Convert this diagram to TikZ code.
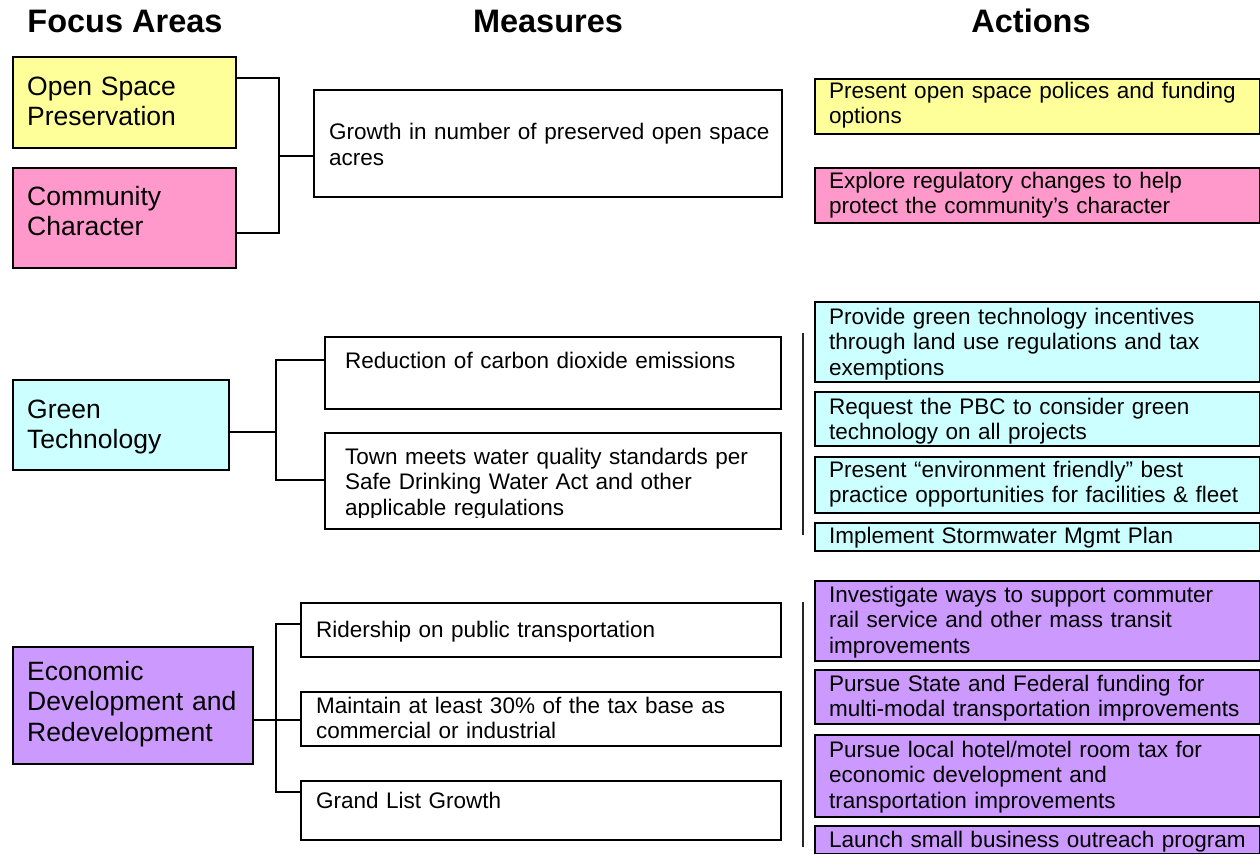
\documentclass[tikz,border=0pt]{standalone}
\usepackage{fontspec}
\setmainfont{Liberation Sans}
\setlength\parindent{0pt}
\definecolor{cyel}{HTML}{FFFF99}
\definecolor{cpink}{HTML}{FF99CC}
\definecolor{ccyan}{HTML}{CCFFFF}
\definecolor{cpurp}{HTML}{CC99FF}
\begin{document}
\begin{tikzpicture}[x=1pt,y=-1pt,
  box/.style={rectangle,draw=black,line width=1.8pt,inner sep=0pt,anchor=north west},
  conn/.style={draw=black,line width=1.8pt},
  brk/.style={draw=black!85,line width=1.3pt},
  ttl/.style={anchor=base,inner sep=0pt,font=\fontsize{32.5pt}{38pt}\selectfont\bfseries},
  ftxt/.style={anchor=base west,inner sep=0pt,text width=230pt,align=left,font=\fontsize{26.5pt}{30.5pt}\selectfont},
  mtxt/.style={anchor=base west,inner sep=0pt,text width=500pt,align=left,font=\fontsize{22.5pt}{25.5pt}\selectfont}]
\useasboundingbox (0,0) rectangle (1260,854);

% titles
\node[ttl] (h1) at (125,32) {Focus Areas};
\node[ttl] (h2) at (548,32) {Measures};
\node[ttl] (h3) at (1031,32) {Actions};

% focus areas
\node[box,fill=cyel,minimum width=223pt,minimum height=91pt] (osp) at (12,56) {};
\node[box,fill=cpink,minimum width=223pt,minimum height=100pt] (cc) at (12,167) {};
\node[box,fill=ccyan,minimum width=216pt,minimum height=90pt] (gt) at (12,379) {};
\node[box,fill=cpurp,minimum width=240pt,minimum height=117pt] (ed) at (12,646) {};
\node[ftxt] (ospt) at (27,95) {Open Space\\Preservation};
\node[ftxt] (cct) at (27,205) {Community\\Character};
\node[ftxt] (gtt) at (27,418) {Green\\Technology};
\node[ftxt] (edt) at (27,680) {Economic\\Development and\\Redevelopment};

% measures
\node[box,fill=white,minimum width=468pt,minimum height=107pt] (m1) at (313,89) {};
\node[box,fill=white,minimum width=456pt,minimum height=72pt] (m2) at (324,336) {};
\node[box,fill=white,minimum width=456pt,minimum height=96pt] (m3) at (324,432) {};
\node[box,fill=white,minimum width=480pt,minimum height=54pt] (m4) at (300,602) {};
\node[box,fill=white,minimum width=480pt,minimum height=54pt] (m5) at (300,691) {};
\node[box,fill=white,minimum width=480pt,minimum height=59pt] (m6) at (300,780) {};
\node[mtxt] (m1t) at (329,139.5) {Growth in number of preserved open space\\acres};
\node[mtxt] (m2t) at (345,368) {Reduction of carbon dioxide emissions};
\begin{scope}
  \clip (326,434) rectangle (778,517.5);
  \node[mtxt] (m3t) at (345,464) {Town meets water quality standards per\\Safe Drinking Water Act and other\\applicable regulations};
\end{scope}
\node[mtxt] (m4t) at (316,637) {Ridership on public transportation};
\node[mtxt] (m5t) at (316,713) {Maintain at least 30\% of the tax base as\\commercial or industrial};
\node[mtxt] (m6t) at (316,808) {Grand List Growth};

% actions
\node[box,fill=cyel,minimum width=444.5pt,minimum height=55pt] (a1) at (814,78) {};
\node[box,fill=cpink,minimum width=444.5pt,minimum height=55pt] (a2) at (814,167) {};
\node[box,fill=ccyan,minimum width=444.5pt,minimum height=80pt] (c1) at (814,301) {};
\node[box,fill=ccyan,minimum width=444.5pt,minimum height=54pt] (c2) at (814,391) {};
\node[box,fill=ccyan,minimum width=444.5pt,minimum height=56pt] (c3) at (814,456) {};
\node[box,fill=ccyan,minimum width=444.5pt,minimum height=28pt] (c4) at (814,522) {};
\node[box,fill=cpurp,minimum width=444.5pt,minimum height=80pt] (p1) at (814,580) {};
\node[box,fill=cpurp,minimum width=444.5pt,minimum height=54pt] (p2) at (814,669) {};
\node[box,fill=cpurp,minimum width=444.5pt,minimum height=82pt] (p3) at (814,734) {};
\node[box,fill=cpurp,minimum width=444.5pt,minimum height=27.5pt] (p4) at (814,825) {};
\node[mtxt] (a1t) at (829,98) {Present open space polices and funding\\options};
\node[mtxt] (a2t) at (829,188) {Explore regulatory changes to help\\protect the community’s character};
\node[mtxt] (c1t) at (829,324) {Provide green technology incentives\\through land use regulations and tax\\exemptions};
\node[mtxt] (c2t) at (829,414) {Request the PBC to consider green\\technology on all projects};
\node[mtxt] (c3t) at (829,477) {Present “environment friendly” best\\practice opportunities for facilities \& fleet};
\node[mtxt] (c4t) at (829,543) {Implement Stormwater Mgmt Plan};
\node[mtxt] (p1t) at (829,602) {Investigate ways to support commuter\\rail service and other mass transit\\improvements};
\node[mtxt] (p2t) at (829,691) {Pursue State and Federal funding for\\multi-modal transportation improvements};
\node[mtxt] (p3t) at (829,757) {Pursue local hotel/motel room tax for\\economic development and\\transportation improvements};
\node[mtxt] (p4t) at (829,847) {Launch small business outreach program};

% connectors: top group
\coordinate (t1) at (279,78);
\coordinate (t2) at (279,233);
\coordinate (tm) at (279,156);
\draw[conn] (osp.east |- t1) -- (t1) -- (t2) -- (cc.east |- t2);
\draw[conn] (tm) -- (m1.west |- tm);

% connectors: green group
\coordinate (g0) at (276,432);
\coordinate (g1) at (276,360);
\coordinate (g2) at (276,480);
\draw[conn] (gt.east |- g0) -- (g0);
\draw[conn] (m2.west |- g1) -- (g1) -- (g2) -- (m3.west |- g2);

% connectors: economic group
\coordinate (e0) at (276,720);
\coordinate (e1) at (276,624);
\coordinate (e2) at (276,792);
\draw[conn] (ed.east |- e0) -- (m5.west |- e0);
\draw[conn] (m4.west |- e1) -- (e1) -- (e2) -- (m6.west |- e2);

% action brackets
\coordinate (b1a) at (803,333);
\coordinate (b1b) at (803,535);
\coordinate (b2a) at (803,602);
\coordinate (b2b) at (803,847);
\draw[brk] (b1a) -- (b1b);
\draw[brk] (b2a) -- (b2b);
\end{tikzpicture}
\end{document}
